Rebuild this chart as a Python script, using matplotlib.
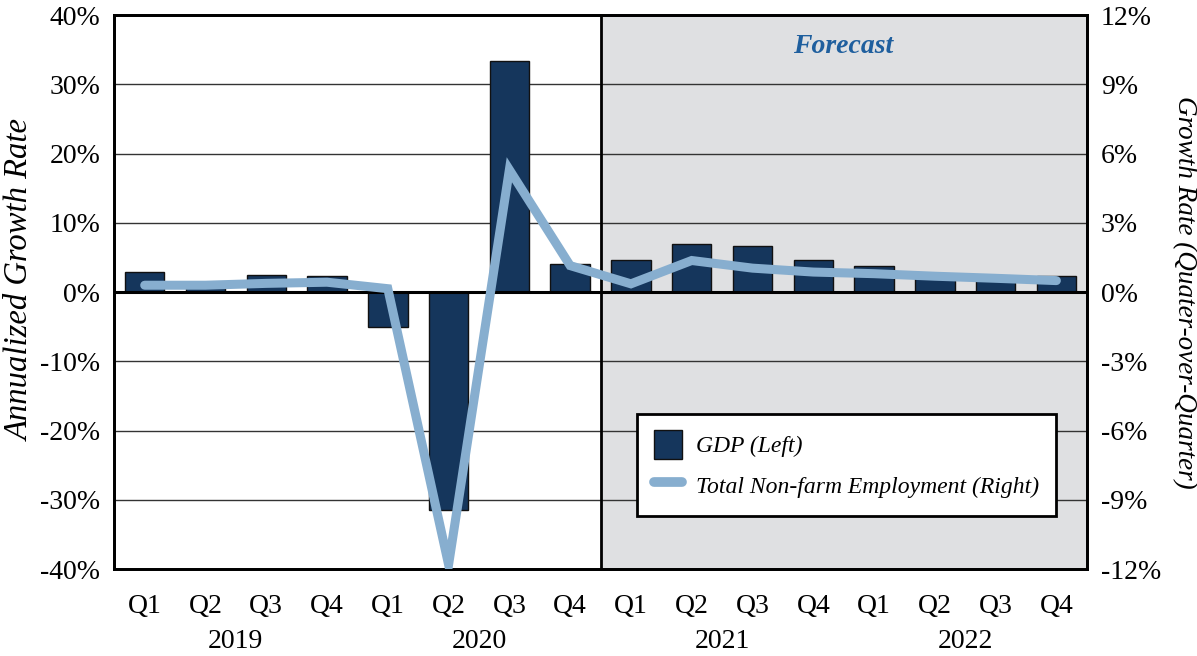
import matplotlib
matplotlib.use("Agg")
import matplotlib.pyplot as plt
from matplotlib.lines import Line2D
from matplotlib.patches import Patch
import numpy as np

quarters = ["Q1", "Q2", "Q3", "Q4"] * 4
years = ["2019", "2020", "2021", "2022"]
gdp = [2.9, 1.5, 2.5, 2.3, -5.0, -31.4, 33.4, 4.0,
       4.7, 6.9, 6.6, 4.7, 3.8, 2.6, 2.3, 2.3]
employment = [0.3, 0.3, 0.38, 0.43, 0.15, -11.8, 5.3, 1.15,
              0.36, 1.37, 1.04, 0.87, 0.8, 0.69, 0.6, 0.5]
left_ticks = [40, 30, 20, 10, 0, -10, -20, -30, -40]
right_ticks = [12, 9, 6, 3, 0, -3, -6, -9, -12]

bar_color = "#15365c"
line_color = "#87aecf"
serif = ["Liberation Serif", "DejaVu Serif"]
plt.rcParams["font.family"] = serif

fig = plt.figure(figsize=(11.97, 6.56), dpi=100)
ax = fig.add_axes([0.0955, 0.1322, 0.8124, 0.8449])
ax2 = ax.twinx()

x = np.arange(len(gdp))
ax.axvspan(7.5, 15.5, color="#dfe0e2", zorder=0, lw=0)
ax.set_axisbelow(True)
for t in left_ticks:
    if t not in (0, 40, -40):
        ax.axhline(t, color="#333333", lw=1.0, zorder=0.5)
ax.bar(x, gdp, width=0.65, color=bar_color, edgecolor="#111111", lw=1.0, zorder=2)
ax.axhline(0, color="black", lw=2.2, zorder=3)
ax.axvline(7.5, color="black", lw=2.0, zorder=3)

ax.set_xlim(-0.5, 15.5)
ax.set_ylim(-40, 40)
ax.set_yticks(left_ticks)
ax.set_yticklabels([f"{t}%" for t in left_ticks], fontsize=20)
ax.set_xticks(x)
ax.set_xticklabels(quarters, fontsize=20)
ax.tick_params(axis="both", length=0, pad=10)
ax.tick_params(axis="x", pad=18)
for i, yr in enumerate(years):
    ax.text(i * 4 + 1.5, -0.1310, yr, transform=ax.get_xaxis_transform(),
            ha="center", va="center", fontsize=20)

fig.text(21 / 1197, 1 - 280 / 656, "Annualized Growth Rate", fontsize=23.5,
         style="italic", rotation=90, ha="center", va="center")
fig.text(1184 / 1197, 1 - 292 / 656, "Growth Rate (Quater-over-Quarter)", fontsize=19.5,
         style="italic", rotation=270, ha="center", va="center")

ax2.plot(x, employment, color=line_color, lw=6.5, solid_capstyle="round",
         solid_joinstyle="miter", zorder=4)
ax2.set_ylim(-12, 12)
ax2.set_yticks(right_ticks)
ax2.set_yticklabels([f"{t}%" for t in right_ticks], fontsize=20)
ax2.tick_params(axis="y", length=0, pad=10)

for a in (ax, ax2):
    for s in a.spines.values():
        s.set_linewidth(2.0)
        s.set_color("black")

ax.text(11.5, 0.965, "Forecast", transform=ax.get_xaxis_transform(), ha="center",
        va="top", fontsize=20, style="italic", weight="bold", color="#1f5f9e")

handles = [Patch(facecolor=bar_color, edgecolor="#111111", lw=1.0),
           Line2D([0], [0], color=line_color, lw=7, solid_capstyle="round")]
leg = ax2.legend(handles, ["GDP (Left)", "Total Non-farm Employment (Right)"],
                 loc="lower left", bbox_to_anchor=(0.5375, 0.096), borderaxespad=0,
                 frameon=True, fancybox=False, framealpha=1.0, facecolor="white",
                 prop={"family": serif, "style": "italic", "size": 17},
                 handlelength=1.2, handleheight=1.5, labelspacing=0.5,
                 borderpad=0.7, handletextpad=0.6)
leg.get_frame().set_edgecolor("black")
leg.get_frame().set_linewidth(2.0)
leg.set_zorder(10)

fig.savefig("out.png", dpi=100)
